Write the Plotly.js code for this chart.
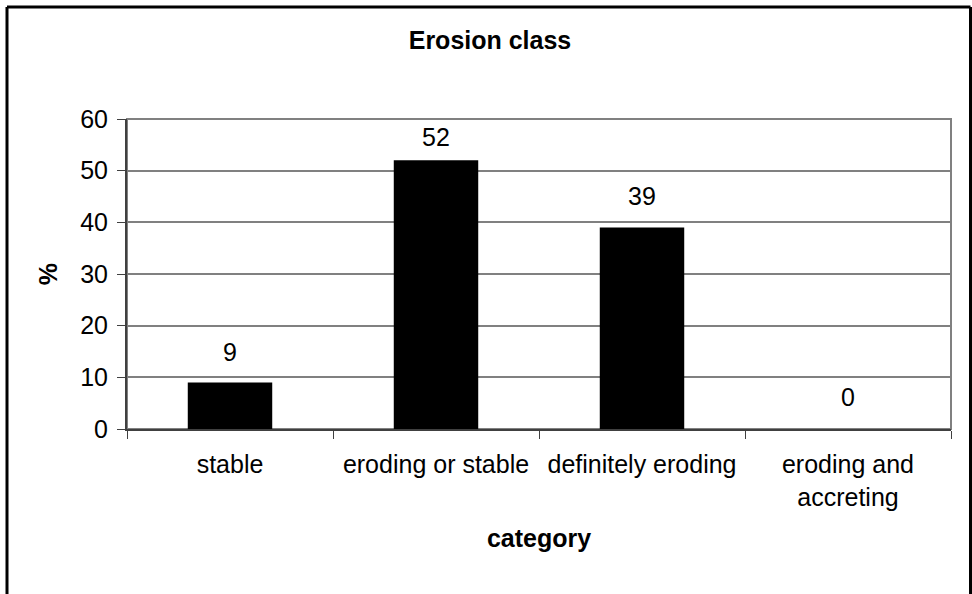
<!DOCTYPE html>
<html>
<head>
<meta charset="utf-8">
<script src="https://cdn.plot.ly/plotly-3.0.1.min.js"></script>
<style>
  html, body { margin: 0; padding: 0; background: #ffffff; }
  #chart { width: 972px; height: 594px; }
</style>
</head>
<body>
<div id="chart"></div>
<script>
// Erosion class distribution (percent of sites per category)
const categories = ['stable', 'eroding or stable', 'definitely eroding', 'eroding and<br>accreting'];
const percentValues = [9, 52, 39, 0];
const valueLabels = ['9', '52', '39', '0'];
const yTickValues = [0, 10, 20, 30, 40, 50, 60];

// vertical gap (px) between each bar top and its value label
const labelLift = [20, 12, 21, 21];

const FONT = 'Liberation Sans, Arial, Helvetica, sans-serif';
const FS = 25;
const plotL = 127, plotR = 21, plotT = 119, plotB = 165;
const W = 972, H = 594;
const pw = W - plotL - plotR, ph = H - plotT - plotB;
const px2x = p => (p - plotL) / pw;
const px2y = p => (H - plotB - p) / ph;

const trace = {
  type: 'bar',
  x: categories,
  y: percentValues,
  marker: { color: '#000000', line: { width: 0 } },
  hoverinfo: 'x+y'
};

const annotations = categories.map((c, i) => ({
  x: c, y: percentValues[i], xref: 'x', yref: 'y',
  text: valueLabels[i], showarrow: false,
  yanchor: 'bottom', yshift: labelLift[i] - 5,
  font: { family: FONT, size: FS, color: '#000000' }
}));

const shapes = [
  // plot area frame (gray, drawn under the axis lines)
  { type: 'rect', xref: 'paper', yref: 'paper', x0: 0, x1: 1, y0: 0, y1: 1,
    line: { color: '#808080', width: 2 }, layer: 'below' },
  // chart outer border
  { type: 'line', xref: 'paper', yref: 'paper', x0: px2x(7), x1: px2x(7), y0: px2y(7), y1: px2y(600),
    line: { color: '#000000', width: 3 } },
  { type: 'line', xref: 'paper', yref: 'paper', x0: px2x(7), x1: px2x(970.5), y0: px2y(7), y1: px2y(7),
    line: { color: '#000000', width: 3 } },
  { type: 'line', xref: 'paper', yref: 'paper', x0: px2x(970.5), x1: px2x(970.5), y0: px2y(7), y1: px2y(600),
    line: { color: '#000000', width: 3 } }
];

const layout = {
  width: W, height: H,
  margin: { l: plotL, r: plotR, t: plotT, b: plotB, pad: 0 },
  paper_bgcolor: '#ffffff', plot_bgcolor: '#ffffff',
  showlegend: false,
  bargap: 0.59,
  font: { family: FONT, size: FS, color: '#000000' },
  title: {
    text: '<b>Erosion class</b>',
    x: 490 / W, xanchor: 'center', xref: 'container',
    y: 1 - 40 / H, yanchor: 'middle', yref: 'container',
    font: { family: FONT, size: FS, color: '#000000' }
  },
  xaxis: {
    type: 'category',
    showgrid: false,
    showline: true, linecolor: '#404040', linewidth: 2,
    ticks: 'outside', tickson: 'boundaries', ticklen: 8, tickcolor: '#404040', tickwidth: 1,
    ticklabelstandoff: 12,
    tickfont: { family: FONT, size: FS, color: '#000000' },
    title: { text: '<b>category</b>', standoff: 20, font: { family: FONT, size: FS, color: '#000000' } },
    fixedrange: true
  },
  yaxis: {
    range: [0, 60],
    tickvals: yTickValues,
    ticktext: yTickValues.map(String),
    showgrid: true, gridcolor: '#808080', gridwidth: 2,
    zeroline: false,
    showline: true, linecolor: '#404040', linewidth: 2,
    ticks: 'outside', ticklen: 8, tickcolor: '#404040', tickwidth: 1,
    ticklabelstandoff: 4,
    tickfont: { family: FONT, size: FS, color: '#000000' },
    title: { text: '<b>%</b>', standoff: 15, font: { family: FONT, size: FS, color: '#000000' } },
    fixedrange: true
  },
  annotations: annotations,
  shapes: shapes
};

Plotly.newPlot('chart', [trace], layout, { displayModeBar: false, staticPlot: true });
</script>
</body>
</html>
